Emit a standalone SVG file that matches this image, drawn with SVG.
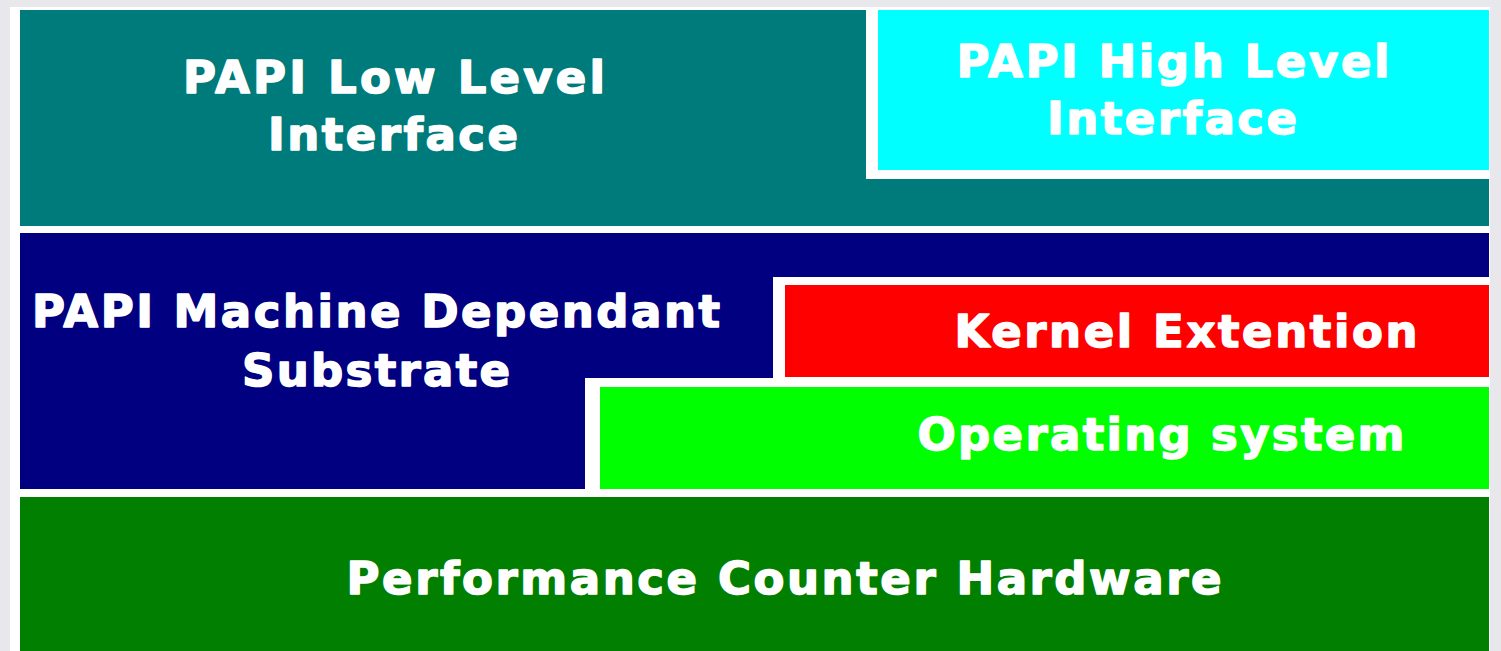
<svg xmlns="http://www.w3.org/2000/svg" width="1501" height="651" viewBox="0 0 1501 651">
<style>
.t{font-family:"DejaVu Sans","Liberation Sans",Arial,sans-serif;font-weight:bold;font-size:45px;fill:#ffffff;stroke:#ffffff;stroke-width:1.5;stroke-linejoin:round;text-anchor:middle}
.gap{fill:#ffffff}
</style>
<rect x="0" y="0" width="1501" height="651" fill="#e8e8ec"/>
<rect x="10" y="7" width="1480" height="644" fill="#ffffff"/>
<g id="low-level">
<rect x="20" y="10" width="1469" height="216" fill="#007b7b"/>
<text class="t" x="394" y="93" textLength="422" lengthAdjust="spacing">PAPI Low Level</text>
<text class="t" x="393" y="150" textLength="250" lengthAdjust="spacing">Interface</text>
</g>
<g id="high-level">
<rect class="gap" x="866" y="10" width="623" height="169"/>
<rect x="878" y="10" width="611" height="160" fill="#00ffff"/>
<text class="t" x="1173" y="77" textLength="433" lengthAdjust="spacing">PAPI High Level</text>
<text class="t" x="1172" y="134" textLength="250" lengthAdjust="spacing">Interface</text>
</g>
<g id="substrate">
<rect x="20" y="233" width="1469" height="256" fill="#000080"/>
<text class="t" x="376" y="327" textLength="688" lengthAdjust="spacing">PAPI Machine Dependant</text>
<text class="t" x="376" y="386" textLength="268" lengthAdjust="spacing">Substrate</text>
</g>
<g id="kernel-extention">
<rect class="gap" x="773" y="277" width="716" height="110"/>
<rect x="785" y="285" width="704" height="92" fill="#ff0000"/>
<text class="t" x="1186" y="347" textLength="463" lengthAdjust="spacing">Kernel Extention</text>
</g>
<g id="operating-system">
<rect class="gap" x="585" y="378" width="904" height="111"/>
<rect x="600" y="387" width="889" height="102" fill="#00ff00"/>
<text class="t" x="1161" y="450" textLength="487" lengthAdjust="spacing">Operating system</text>
</g>
<g id="hardware">
<rect x="20" y="497" width="1469" height="154" fill="#007f00"/>
<text class="t" x="784" y="594" textLength="875" lengthAdjust="spacing">Performance Counter Hardware</text>
</g>
</svg>
